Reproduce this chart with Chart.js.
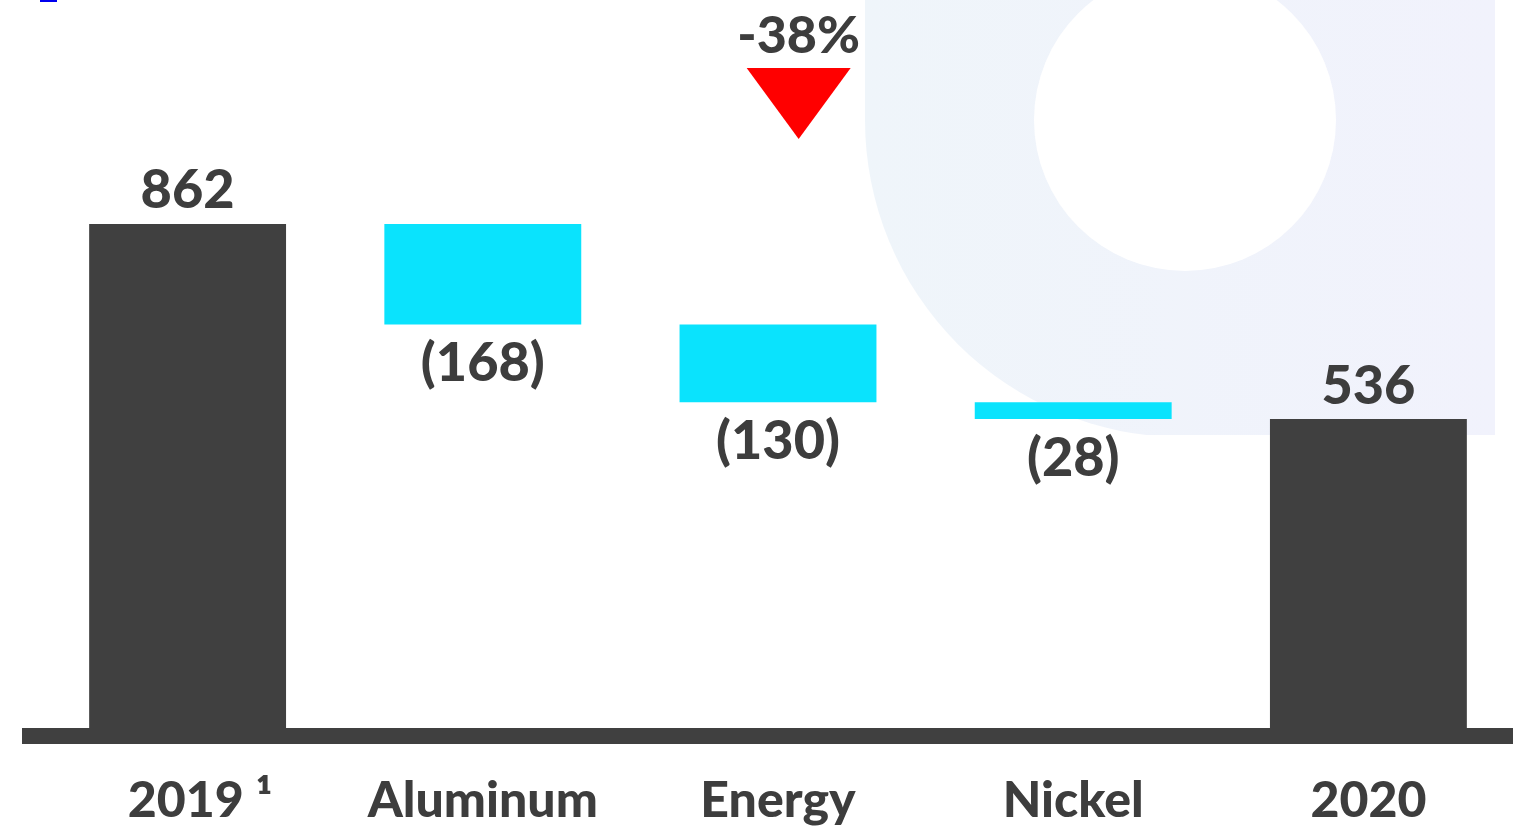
<!DOCTYPE html>
<html>
<head>
<meta charset="utf-8">
<script src="https://cdn.jsdelivr.net/npm/chart.js@4.4.0/dist/chart.umd.min.js"></script>
<style>
  html, body { margin: 0; padding: 0; background: #fff; overflow: hidden; }
  #wrap { width: 1516px; height: 831px; position: relative; }
</style>
</head>
<body>
<div id="wrap"><canvas id="bridgeChart"></canvas></div>
<script>
// categories and values
var categories = ['\u20022019 \u00B9', 'Aluminum', 'Energy', 'Nickel', '2020'];
var barStart = [0, 694, 564, 536, 0];
var barEnd = [862, 862, 694, 564, 536];
var valueLabels = ['862', '(168)', '(130)', '(28)', '536'];
var isTotal = [true, false, false, false, true];
var changeLabel = '-38%';

var DARK = '#404040';
var CYAN = '#0ae3fd';
var TEXT = '#3d3d3d';
var FONT = 'Lato';

var floating = categories.map(function(c, i) { return [barStart[i], barEnd[i]]; });

// faint ring decoration behind the chart
var backdrop = {
    id: 'backdrop',
    beforeDraw: function(chart) {
        var ctx = chart.ctx;
        ctx.save();
        ctx.beginPath();
        ctx.rect(865, 0, 630, 435);
        ctx.clip();
        var g = ctx.createLinearGradient(865, 0, 1495, 0);
        g.addColorStop(0, '#eff5fa');
        g.addColorStop(1, '#f1f2fc');
        ctx.fillStyle = g;
        ctx.beginPath();
        ctx.arc(1182, 120, 317, 0, Math.PI * 2);
        ctx.fill();
        ctx.fillRect(1182, 0, 313, 435);
        ctx.fillRect(865, 0, 317, 120);
        ctx.fillStyle = '#ffffff';
        ctx.beginPath();
        ctx.arc(1185, 120, 151, 0, Math.PI * 2);
        ctx.fill();
        ctx.restore();
        // little blue mark in the corner
        ctx.save();
        ctx.fillStyle = '#0000ee';
        ctx.fillRect(40, 0, 17, 2);
        ctx.restore();
    }
};

// axis bar, value labels and the -38% marker
var overlay = {
    id: 'overlay',
    afterDatasetsDraw: function(chart) {
        var ctx = chart.ctx;
        var xs = chart.scales.x, ys = chart.scales.y;
        ctx.save();
        ctx.fillStyle = DARK;
        ctx.fillRect(22, 728, 1513 - 22, 16);

        ctx.font = '900 54px ' + FONT;
        ctx.fillStyle = TEXT;
        ctx.textAlign = 'center';
        ctx.textBaseline = 'middle';
        categories.forEach(function(c, i) {
            var x = xs.getPixelForValue(i);
            if (isTotal[i]) {
                ctx.fillText(valueLabels[i], x, ys.getPixelForValue(barEnd[i]) - 33);
            } else {
                ctx.fillText(valueLabels[i], x, ys.getPixelForValue(barStart[i]) + 39);
            }
        });

        var mx = xs.getPixelForValue(2.07);
        ctx.font = '900 52px ' + FONT;
        ctx.fillText(changeLabel, mx, 36);
        ctx.fillStyle = '#ff0000';
        ctx.beginPath();
        ctx.moveTo(mx - 52, 68);
        ctx.lineTo(mx + 52, 68);
        ctx.lineTo(mx, 139);
        ctx.closePath();
        ctx.fill();
        ctx.restore();
    }
};

var ctx = document.getElementById('bridgeChart').getContext('2d');
var bridgeChart = new Chart(ctx, {
    type: 'bar',
    data: {
        labels: categories,
        datasets: [{
            data: floating,
            backgroundColor: isTotal.map(function(t) { return t ? DARK : CYAN; }),
            borderWidth: 0,
            borderSkipped: false,
            barPercentage: 0.667,
            categoryPercentage: 1
        }]
    },
    options: {
        responsive: true,
        maintainAspectRatio: false,
        animation: false,
        layout: { padding: { left: 40, right: 0, top: 0, bottom: 0 } },
        plugins: { legend: { display: false }, tooltip: { enabled: false } },
        scales: {
            x: {
                grid: { display: false, drawTicks: false },
                border: { display: false },
                afterFit: function(scale) { scale.height = 91; },
                ticks: {
                    color: TEXT,
                    font: { family: FONT, weight: '900', size: 50 },
                    padding: 31,
                    maxRotation: 0
                }
            },
            y: {
                display: false,
                min: 0,
                max: 1236
            }
        }
    },
    plugins: [backdrop, overlay]
});
</script>
</body>
</html>
